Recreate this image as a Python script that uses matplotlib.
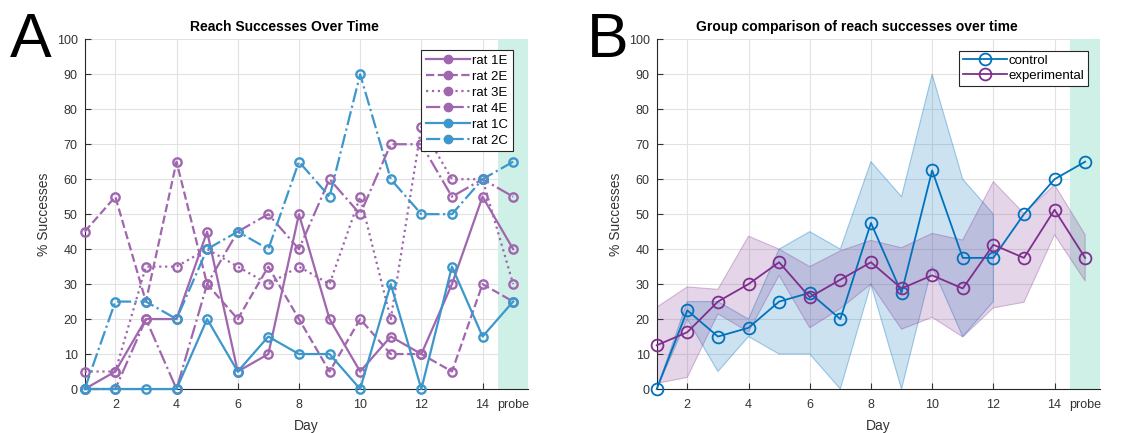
import matplotlib.pyplot as plt
from matplotlib.lines import Line2D
import numpy as np

plt.rcParams['font.family'] = ['Liberation Sans', 'DejaVu Sans']

days = list(range(1, 16))
tick_pos = [2, 4, 6, 8, 10, 12, 14, 15]
tick_labels = ['2', '4', '6', '8', '10', '12', '14', 'probe']

# panel A, % successes per rat (day 15 = probe)
rat1E = [0, 5, 20, 20, 45, 5, 10, 50, 20, 5, 15, 10, 30, 55, 40]
rat2E = [45, 55, 25, 65, 30, 20, 35, 20, 5, 20, 10, 10, 5, 30, 25]
rat3E = [5, 5, 35, 35, 40, 35, 30, 35, 30, 55, 20, 75, 60, 60, 30]
rat4E = [0, 0, 20, 0, 30, 45, 50, 40, 60, 50, 70, 70, 55, 60, 55]
rat1C = [0, 0, 0, 0, 20, 5, 15, 10, 10, 0, 30, 0, 35, 15, 25]
rat2C = [0, 25, 25, 20, 40, 45, 40, 65, 55, 90, 60, 50, 50, 60, 65]

# panel B, group means and shaded bands
control_mean = [0, 22.5, 15, 17.5, 25, 27.5, 20, 47.5, 27.5, 62.5, 37.5, 37.5, 50, 60, 65]
control_upper = [0, 25, 25, 20, 40, 45, 40, 65, 55, 90, 60, 50]   # band only days 1-12
control_lower = [0, 20, 5, 15, 10, 10, 0, 30, 0, 35, 15, 25]
exp_mean = [12.5, 16.25, 25, 30, 36.25, 26.25, 31.25, 36.25, 28.75, 32.5, 28.75, 41.25, 37.5, 51.25, 37.5]
exp_upper = [23.4, 29.2, 28.5, 43.7, 40, 35, 39.5, 42.5, 40.4, 44.5, 42.6, 59.3, 50.2, 58.4, 44.1]
exp_lower = [1.6, 3.3, 21.5, 16.3, 32.5, 17.5, 23, 30, 17.1, 20.5, 14.9, 23.2, 24.8, 44.1, 30.9]

purple = '#A066AE'
blue = '#3D97CB'
ctrl_col = '#0072BD'
exp_col = '#7E2F8E'
probe_col = '#CFF0E7'
txt_col = '#333333'


def style(ax, title):
    ax.set_xlim(1, 15.5)
    ax.set_ylim(0, 100)
    ax.axvspan(14.5, 15.5, color=probe_col, lw=0, zorder=1)
    ax.set_xticks(tick_pos)
    ax.set_xticklabels(tick_labels)
    ax.set_yticks(range(0, 101, 10))
    ax.grid(True, color='#E2E2E2', lw=0.8)
    ax.set_axisbelow(True)
    for s in ['top', 'right']:
        ax.spines[s].set_visible(False)
    for s in ['left', 'bottom']:
        ax.spines[s].set_color('#262626')
        ax.spines[s].set_linewidth(0.8)
    ax.tick_params(direction='in', length=4, colors=txt_col, labelsize=9)
    ax.tick_params(axis='x', pad=7)
    ax.tick_params(axis='y', pad=5)
    ax.set_title(title, fontsize=10, fontweight='bold', pad=6, x=0.45)
    ax.set_xlabel('Day', fontsize=10, color=txt_col, labelpad=6)
    ax.set_ylabel('% Successes', fontsize=10, color=txt_col, labelpad=4)


fig = plt.figure(figsize=(11.22, 4.33), dpi=100)
axA = fig.add_axes([0.0755, 0.1016, 0.3955, 0.8076])
axB = fig.add_axes([0.5853, 0.1016, 0.3955, 0.8076])

# ---- A
style(axA, 'Reach Successes Over Time')
series = [(rat1E, purple, '-', 'rat 1E'),
          (rat2E, purple, '--', 'rat 2E'),
          (rat3E, purple, ':', 'rat 3E'),
          (rat4E, purple, '-.', 'rat 4E'),
          (rat1C, blue, '-', 'rat 1C'),
          (rat2C, blue, '-.', 'rat 2C')]
handles = []
for vals, col, ls, lab in series:
    axA.plot(days, vals, color=col, ls=ls, lw=1.6, marker='o', ms=6, mfc='none',
             mew=1.7, clip_on=False, zorder=3)
    handles.append(Line2D([], [], color=col, ls=ls, lw=1.6, marker='o', ms=6, mfc=col))
leg = axA.legend(handles, [s[3] for s in series], loc='upper right',
                 bbox_to_anchor=(0.9653, 0.969), borderaxespad=0, fontsize=9.5,
                 handlelength=3.4, labelspacing=0.28, handletextpad=0.15, borderpad=0.35,
                 fancybox=False, framealpha=1, edgecolor='#262626')
leg.get_frame().set_linewidth(0.8)

# ---- B
style(axB, 'Group comparison of reach successes over time')
axB.fill_between(days[:len(control_upper)], control_lower, control_upper,
                 facecolor=ctrl_col, alpha=0.2, zorder=2)
axB.fill_between(days[:len(control_upper)], control_lower, control_upper,
                 facecolor='none', edgecolor=ctrl_col, alpha=0.35, lw=0.8, zorder=2)
axB.fill_between(days, exp_lower, exp_upper, facecolor=exp_col, alpha=0.2, zorder=2)
axB.fill_between(days, exp_lower, exp_upper, facecolor='none', edgecolor=exp_col,
                 alpha=0.3, lw=0.8, zorder=2)
axB.plot(days, control_mean, color=ctrl_col, lw=1.3, marker='o', ms=8.5, mfc='none',
         mew=1.3, clip_on=False, zorder=4, label='control')
axB.plot(days, exp_mean, color=exp_col, lw=1.3, marker='o', ms=8.5, mfc='none',
         mew=1.3, clip_on=False, zorder=4, label='experimental')
legB = axB.legend(loc='upper right', bbox_to_anchor=(0.973, 0.967), borderaxespad=0,
                  fontsize=9.5, handlelength=3.4, labelspacing=0.2, handletextpad=0.1,
                  borderpad=0.3, fancybox=False, framealpha=1, edgecolor='#262626')
legB.get_frame().set_linewidth(0.8)

fig.text(10 / 1122, 1 - 11 / 433, 'A', fontsize=45, va='top', ha='left')
fig.text(587 / 1122, 1 - 11 / 433, 'B', fontsize=45, va='top', ha='left')

fig.savefig('out.png', dpi=100)
